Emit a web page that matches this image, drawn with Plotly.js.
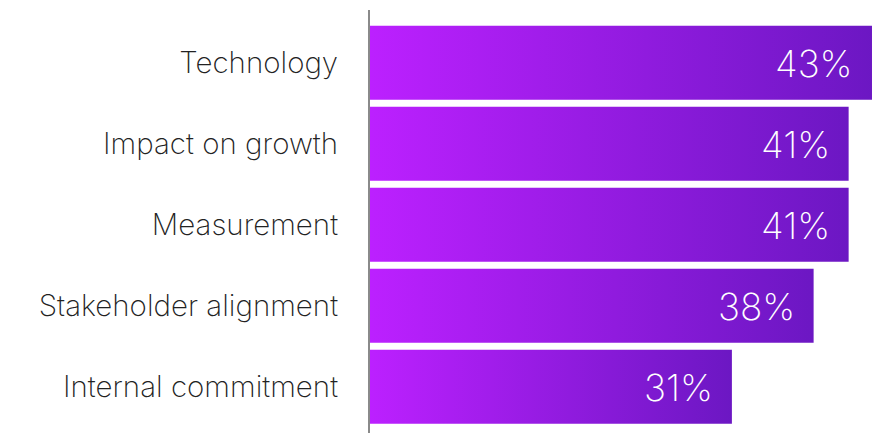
<!DOCTYPE html>
<html>
<head>
<meta charset="utf-8">
<script src="https://cdn.plot.ly/plotly-3.0.1.min.js"></script>
<style>html,body{margin:0;padding:0;background:#fff;}#chart{width:886px;height:433px;}</style>
</head>
<body>
<div id="chart"></div>
<script>
const categories = ["Technology", "Impact on growth", "Measurement", "Stakeholder alignment", "Internal commitment"];
const values = [43, 41, 41, 38, 31];
const valueLabels = ["43%", "41%", "41%", "38%", "31%"];

const HALF = 0.457;
const traces = categories.map((c, i) => ({
  type: 'scatter',
  mode: 'none',
  x: [0, values[i], values[i], 0, 0],
  y: [i - HALF, i - HALF, i + HALF, i + HALF, i - HALF],
  fill: 'toself',
  fillcolor: '#951cdf',
  fillgradient: {type: 'horizontal', colorscale: [[0, '#bc20ff'], [1, '#6c17c3']]},
  hoverinfo: 'skip',
  showlegend: false,
  name: c
}));

const annotations = values.map((v, i) => ({
  x: v, y: i, xref: 'x', yref: 'y',
  text: valueLabels[i],
  showarrow: false,
  xanchor: 'right', yanchor: 'middle',
  xshift: -17,
  yshift: -1,
  font: {family: 'Inter, Roboto, sans-serif', size: 37, color: '#ffffff', weight: 200}
}));

const layout = {
  width: 886, height: 433,
  margin: {l: 370, r: 0, t: 10, b: 0},
  paper_bgcolor: '#ffffff', plot_bgcolor: '#ffffff',
  showlegend: false,
  xaxis: {range: [0, 44.2], showgrid: false, zeroline: false, showticklabels: false, ticks: '', showline: false, fixedrange: true},
  yaxis: {
    range: [4.57, -0.65],
    tickvals: categories.map((c, i) => i),
    ticktext: categories,
    showgrid: false, zeroline: false, ticks: '',
    showline: true, linecolor: '#8a8a8a', linewidth: 2,
    ticklabelstandoff: 24,
    tickfont: {family: 'Inter, Roboto, sans-serif', size: 29.5, color: '#222222', weight: 200},
    fixedrange: true
  },
  annotations: annotations
};

Plotly.newPlot('chart', traces, layout, {displayModeBar: false, staticPlot: true});
</script>
</body>
</html>
